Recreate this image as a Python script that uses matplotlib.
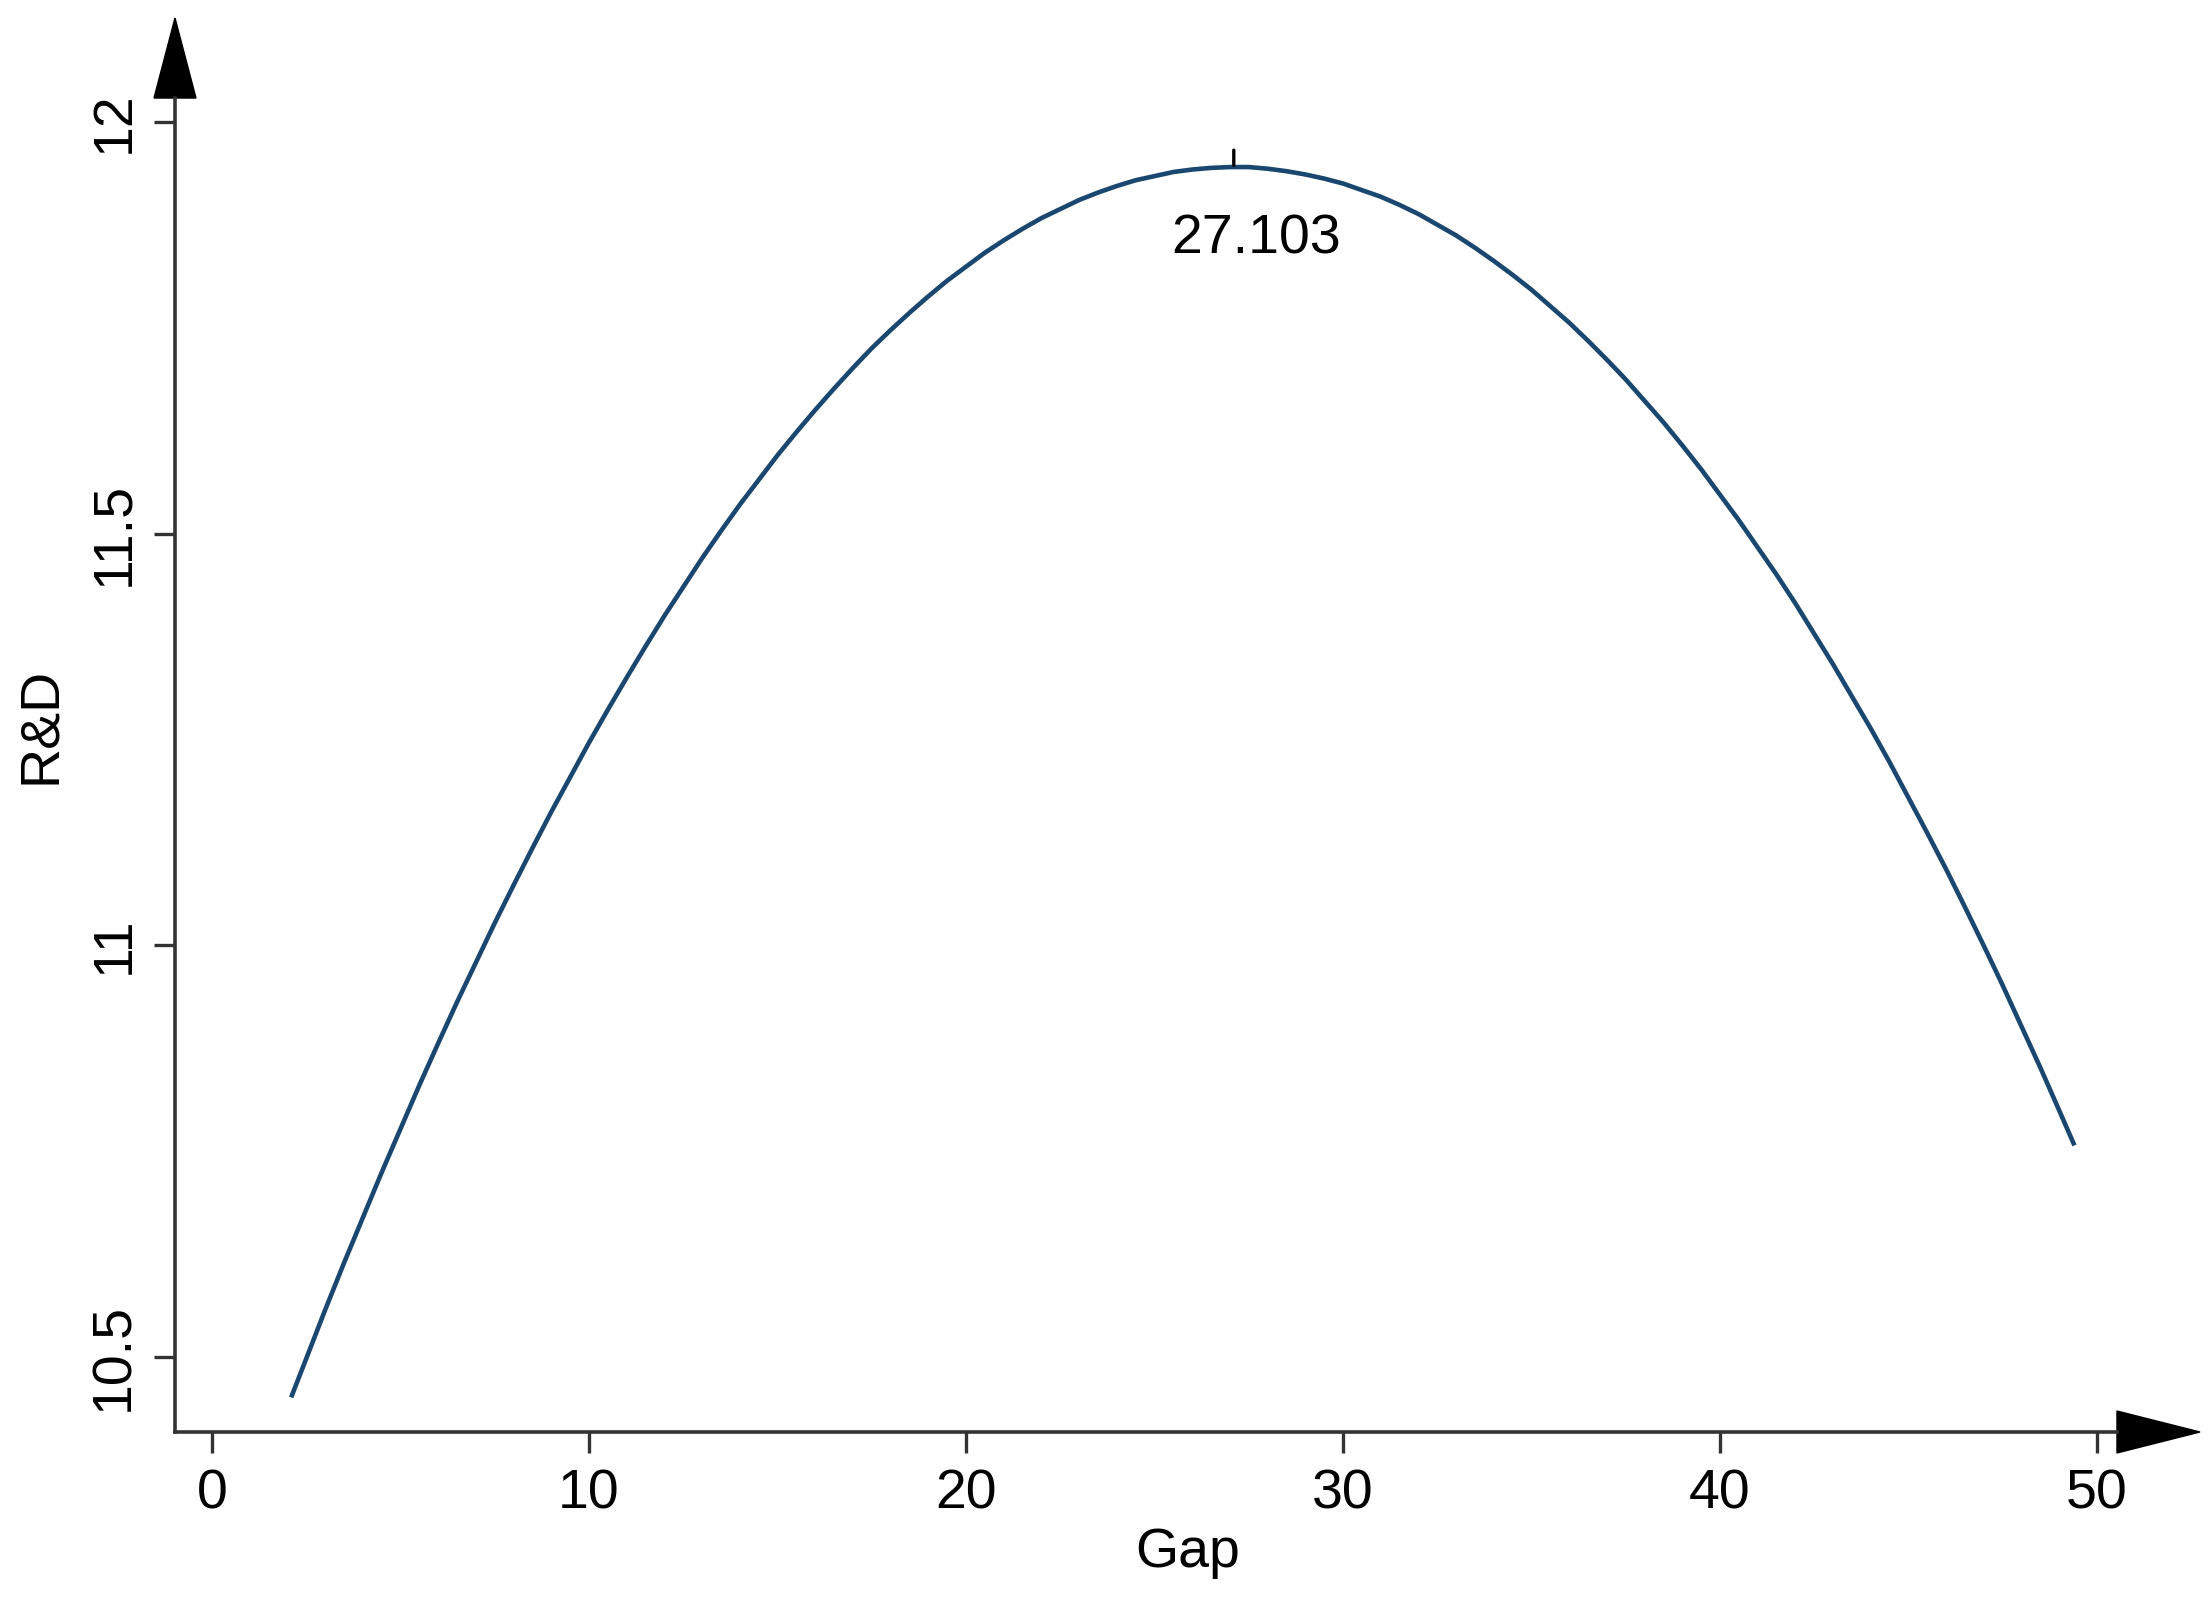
import matplotlib
matplotlib.use("Agg")
import matplotlib.pyplot as plt
from matplotlib.patches import Polygon

plt.rcParams['font.family'] = ['Liberation Sans', 'DejaVu Sans']

# values
gap = [2.1, 2.5, 3, 3.5, 4, 4.5, 5, 5.5, 6, 6.5, 7, 7.5, 8, 8.5, 9, 9.5,
       10, 10.5, 11, 11.5, 12, 12.5, 13, 13.5, 14, 14.5, 15, 15.5, 16, 16.5,
       17, 17.5, 18, 18.5, 19, 19.5, 20, 20.5, 21, 21.5, 22, 22.5, 23, 23.5,
       24, 24.5, 25, 25.5, 26, 26.5, 27, 27.5, 28, 28.5, 29, 29.5, 30, 30.5,
       31, 31.5, 32, 32.5, 33, 33.5, 34, 34.5, 35, 35.5, 36, 36.5, 37, 37.5,
       38, 38.5, 39, 39.5, 40, 40.5, 41, 41.5, 42, 42.5, 43, 43.5, 44, 44.5,
       45, 45.5, 46, 46.5, 47, 47.5, 48, 48.5, 49, 49.4]
rd = [10.451, 10.498, 10.557, 10.614, 10.669, 10.724, 10.777, 10.830,
      10.881, 10.931, 10.979, 11.027, 11.073, 11.118, 11.162, 11.204,
      11.246, 11.286, 11.325, 11.363, 11.400, 11.435, 11.470, 11.503,
      11.535, 11.565, 11.595, 11.623, 11.650, 11.676, 11.701, 11.725,
      11.747, 11.768, 11.788, 11.807, 11.824, 11.841, 11.856, 11.870,
      11.883, 11.894, 11.905, 11.914, 11.922, 11.929, 11.934, 11.939,
      11.942, 11.944, 11.945, 11.945, 11.943, 11.940, 11.936, 11.931,
      11.925, 11.917, 11.909, 11.899, 11.888, 11.875, 11.862, 11.847,
      11.831, 11.814, 11.796, 11.776, 11.756, 11.734, 11.711, 11.687,
      11.661, 11.635, 11.607, 11.578, 11.547, 11.516, 11.483, 11.450,
      11.415, 11.378, 11.341, 11.302, 11.263, 11.222, 11.179, 11.136,
      11.092, 11.046, 10.999, 10.951, 10.901, 10.851, 10.799, 10.757]
peak_x = 27.103
peak_y = 11.947
xticks = [0, 10, 20, 30, 40, 50]
yticks = [10.5, 11, 11.5, 12]

W, H = 2212, 1604
fig = plt.figure(figsize=(W / 100, H / 100), dpi=100)
# axes box: left spine at px 175, bottom spine at px 1432, arrows reach px 2200 / 18
l, r, b, t = 175, 2200, 1432, 18
ax = fig.add_axes([l / W, (H - b) / H, (r - l) / W, (b - t) / H])

ax.plot(gap, rd, color='#1a476f', lw=3.3, solid_capstyle='butt',
        solid_joinstyle='round')

ax.set_xlim(-0.98, 52.73)
ax.set_ylim(10.409, 12.126)
ax.spines['top'].set_visible(False)
ax.spines['right'].set_visible(False)
ax.spines['bottom'].set_bounds(-0.98, 50.53)
ax.spines['left'].set_bounds(10.409, 12.029)
for s in ('bottom', 'left'):
    ax.spines[s].set_linewidth(2.6)
    ax.spines[s].set_color('#333333')

ax.set_xticks(xticks)
ax.set_xticklabels([str(v) for v in xticks])
ax.set_yticks(yticks)
ax.set_yticklabels(['10.5', '11', '11.5', '12'], rotation=90, va='center')
ax.tick_params(length=15, width=2.4, color='#333333', labelsize=40)
ax.tick_params(axis='x', pad=11)
ax.tick_params(axis='y', pad=10)

ax.set_xlabel('Gap', fontsize=40, labelpad=5)
ax.set_ylabel('R&D', fontsize=40, labelpad=15)

# arrow heads on the axes
xa = Polygon([(0.959, 0.01485), (1.0, 0.0), (0.959, -0.01485)], closed=True,
             transform=ax.transAxes, clip_on=False, color='black')
ya = Polygon([(-0.01037, 0.9434), (0.0, 1.0), (0.01037, 0.9434)], closed=True,
             transform=ax.transAxes, clip_on=False, color='black')
ax.add_patch(xa)
ax.add_patch(ya)

# marker at the turning point
ax.annotate('', xy=(peak_x, peak_y), xytext=(0, 11), textcoords='offset points',
            arrowprops=dict(arrowstyle='-', lw=2.4, color='black',
                            shrinkA=0, shrinkB=0))
ax.annotate('27.103', xy=(peak_x, peak_y), xytext=(16, -53),
            textcoords='offset points', ha='center', va='center', fontsize=40)

fig.savefig('out.png', dpi=100)
